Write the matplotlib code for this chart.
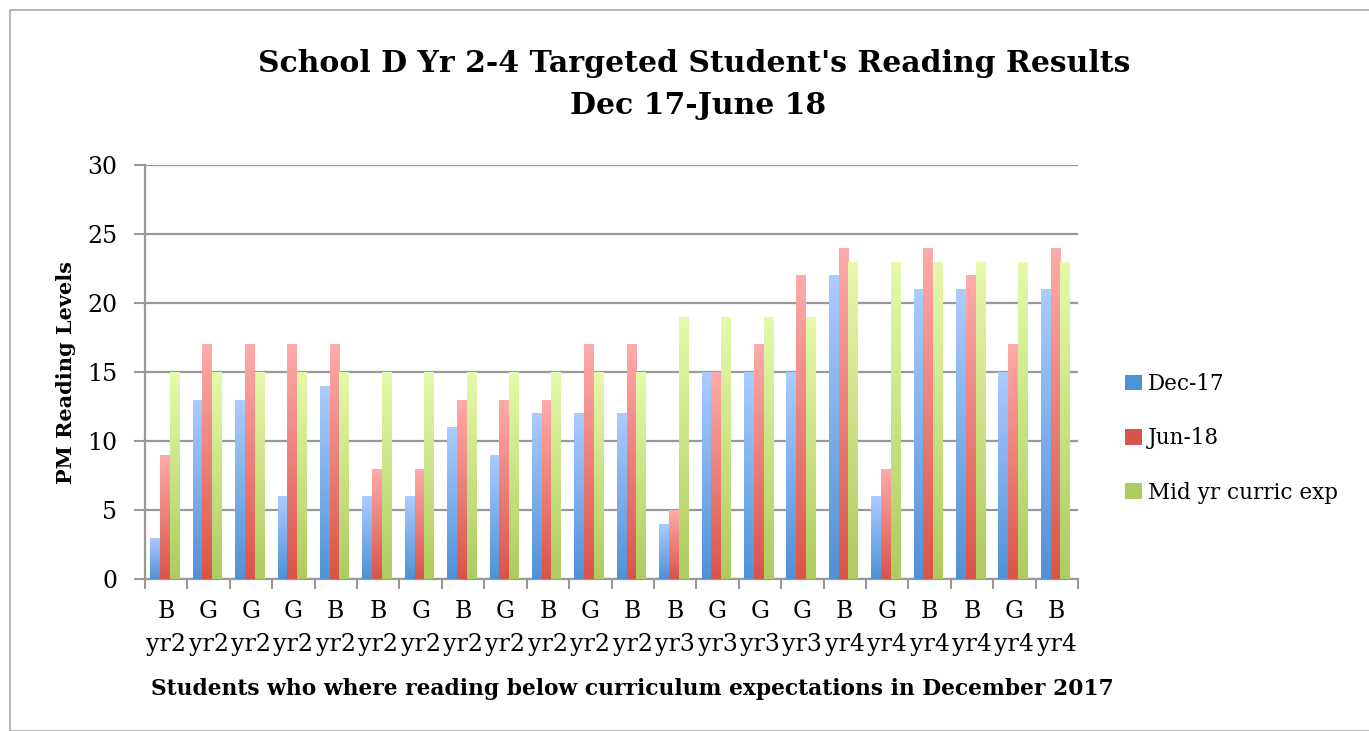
import matplotlib
matplotlib.use("Agg")
import matplotlib.pyplot as plt
import numpy as np
from matplotlib.colors import LinearSegmentedColormap
from matplotlib.patches import Rectangle, Patch

genders = ["B", "G", "G", "G", "B", "B", "G", "B", "G", "B", "G",
           "B", "B", "G", "G", "G", "B", "G", "B", "B", "G", "B"]
years = ["yr2"] * 12 + ["yr3"] * 4 + ["yr4"] * 6
dec17 = [3, 13, 13, 6, 14, 6, 6, 11, 9, 12, 12, 12, 4, 15, 15, 15, 22, 6, 21, 21, 15, 21]
jun18 = [9, 17, 17, 17, 17, 8, 8, 13, 13, 13, 17, 17, 5, 15, 17, 22, 24, 8, 24, 22, 17, 24]
mid_exp = [15] * 12 + [19] * 4 + [23] * 6
series_names = ["Dec-17", "Jun-18", "Mid yr curric exp"]

# top / bottom colours of each gradient
grads = [((0.67, 0.80, 1.0), (0.31, 0.57, 0.84)),
         ((1.0, 0.67, 0.67), (0.85, 0.33, 0.29)),
         ((0.90, 0.98, 0.67), (0.68, 0.80, 0.37))]

plt.rcParams['font.family'] = ['DejaVu Serif']

fig = plt.figure(figsize=(13.69, 7.31), dpi=100)
ax = fig.add_axes([145 / 1369, 1 - 579 / 731, (1078 - 145) / 1369, (579 - 165) / 731])

n = len(genders)
x = np.arange(n)
w = 0.23
offs = [-w - 0.03, -0.03, w - 0.03]

for k, vals in enumerate([dec17, jun18, mid_exp]):
    top, bot = grads[k]
    cmap = LinearSegmentedColormap.from_list("g%d" % k, [bot, top])
    bars = ax.bar(x + offs[k], vals, width=w, color=top, zorder=3, linewidth=0)
    grad = np.linspace(0, 1, 256).reshape(-1, 1)
    for b in bars:
        bx, by = b.get_x(), b.get_y()
        bw, bh = b.get_width(), b.get_height()
        im = ax.imshow(grad, cmap=cmap, origin="lower", aspect="auto",
                       extent=[bx, bx + bw, by, by + bh], zorder=4)
        im.set_clip_path(b)

ax.set_xlim(-0.5, n - 0.5)
ax.set_ylim(0, 30)
ax.set_yticks(range(0, 31, 5))
ax.grid(axis="y", color="#999999", linewidth=1.6, zorder=1)
ax.set_axisbelow(True)

ax.set_xticks(np.arange(-0.5, n, 1.0))
ax.set_xticklabels([])
ax.set_xticks(x, minor=True)
ax.set_xticklabels([g + "\n" + y for g, y in zip(genders, years)], minor=True,
                   fontsize=17, linespacing=1.55)
ax.tick_params(axis="x", which="minor", length=0, pad=15)
ax.tick_params(axis="x", which="major", length=7, width=1.5, color="#999999", direction="out")
ax.tick_params(axis="y", length=8, width=1.5, color="#999999", labelsize=17, pad=12)

for s in ["top", "right"]:
    ax.spines[s].set_visible(False)
for s in ["left", "bottom"]:
    ax.spines[s].set_color("#999999")
    ax.spines[s].set_linewidth(1.6)

ax.set_ylabel("PM Reading Levels", fontsize=15, fontweight="bold", labelpad=8)
ax.set_xlabel("Students who where reading below curriculum expectations in December 2017",
              fontsize=15.7, fontweight="bold")
ax.xaxis.set_label_coords(0.522, -0.24)

fig.text(694 / 1369, 1 - 63 / 731, "School D Yr 2-4 Targeted Student's Reading Results",
         ha="center", va="center", fontsize=21.5, fontweight="bold")
fig.text(698 / 1369, 1 - 105 / 731, "Dec 17-June 18",
         ha="center", va="center", fontsize=21.5, fontweight="bold")

handles = [Patch(facecolor=grads[k][1], edgecolor="none") for k in range(3)]
ax.legend(handles, series_names, loc="center left", bbox_to_anchor=(1.03, 0.34),
          frameon=False, fontsize=15.5, handlelength=0.75, handleheight=0.75,
          handletextpad=0.3, labelspacing=1.5)

fig.patches.append(Rectangle((10 / 1369, 0), 1.2, 1 - 10 / 731, transform=fig.transFigure,
                             fill=False, edgecolor="#aaaaaa", linewidth=1.2))

fig.savefig("out.png", dpi=100)
